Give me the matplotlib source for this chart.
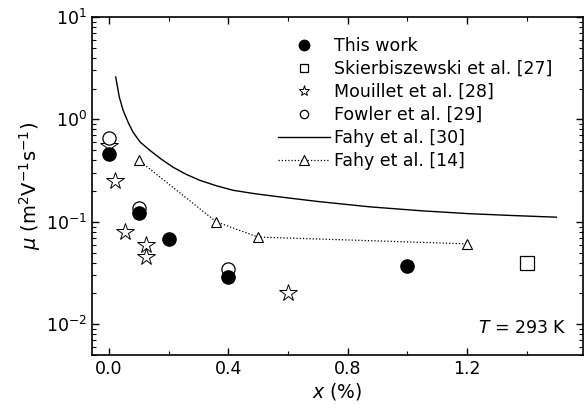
import numpy as np
import matplotlib
matplotlib.use("Agg")
import matplotlib.pyplot as plt

plt.rcParams['font.family'] = ['DejaVu Sans']
plt.rcParams['mathtext.fontset'] = 'dejavusans'

# data
this_x = [0.0, 0.1, 0.2, 0.4, 1.0]
this_y = [0.46, 0.122, 0.068, 0.029, 0.037]

skier_x = [1.4]
skier_y = [0.040]

mouillet_x = [0.0, 0.02, 0.054, 0.123, 0.123, 0.6]
mouillet_y = [0.55, 0.25, 0.08, 0.059, 0.045, 0.020]

fowler_x = [0.0, 0.1, 0.4]
fowler_y = [0.66, 0.135, 0.035]

fahy30_x = [0.023, 0.035, 0.048, 0.065, 0.081, 0.105, 0.137, 0.175, 0.216, 0.26, 0.305,
            0.36, 0.417, 0.49, 0.573, 0.7, 0.875, 1.05, 1.21, 1.36, 1.5]
fahy30_y = [2.59, 1.65, 1.22, 0.93, 0.75, 0.60, 0.50, 0.41, 0.34, 0.29, 0.254,
            0.225, 0.203, 0.188, 0.175, 0.158, 0.14, 0.128, 0.12, 0.115, 0.111]

fahy14_x = [0.1, 0.36, 0.5, 1.2]
fahy14_y = [0.40, 0.10, 0.071, 0.061]

fig = plt.figure(figsize=(5.85, 4.12), dpi=100)
ax = fig.add_axes([0.157, 0.138, 0.84, 0.821])
font_size = 12.5

ax.plot(fahy30_x, fahy30_y, '-', color='k', lw=1.0, label='Fahy et al. [30]')
ax.plot(fahy14_x, fahy14_y, linestyle=(0, (1, 1.6)), color='k', lw=0.9, marker='^',
        markersize=7, markerfacecolor='white', markeredgecolor='k',
        markeredgewidth=0.8, label='Fahy et al. [14]')
ax.plot(mouillet_x, mouillet_y, '*', markersize=13, markerfacecolor='white',
        markeredgecolor='k', markeredgewidth=0.7, label='Mouillet et al. [28]')
ax.plot(fowler_x, fowler_y, 'o', markersize=9.5, markerfacecolor='white',
        markeredgecolor='k', markeredgewidth=0.9, label='Fowler et al. [29]')
ax.plot(skier_x, skier_y, 's', markersize=9.5, markerfacecolor='white',
        markeredgecolor='k', markeredgewidth=0.9, label='Skierbiszewski et al. [27]')
ax.plot(this_x, this_y, 'o', markersize=9.5, color='k', label='This work')

ax.set_yscale('log')
ax.set_xlim(-0.057, 1.59)
ax.set_ylim(5e-3, 10)
ax.set_xticks([0.0, 0.4, 0.8, 1.2])
ax.set_xticklabels(['0.0', '0.4', '0.8', '1.2'])
ax.set_xticks(np.arange(0.2, 1.6, 0.4), minor=True)
ax.tick_params(axis='both', which='both', direction='in', top=True, right=True,
               labelsize=font_size)
ax.tick_params(axis='both', which='major', length=5, width=1)
ax.tick_params(axis='both', which='minor', length=3, width=0.8)
for sp in ax.spines.values():
    sp.set_linewidth(1.2)

ax.set_xlabel(r'$x$ (%)', fontsize=font_size + 1, labelpad=2)
ax.set_ylabel(r'$\mu$ (m$^2$V$^{-1}$s$^{-1}$)', fontsize=font_size + 1.5, labelpad=2)

ax.text(0.965, 0.08, r'$T$ = 293 K', transform=ax.transAxes, ha='right', va='center',
        fontsize=font_size)

handles, labels = ax.get_legend_handles_labels()
order = ['This work', 'Skierbiszewski et al. [27]', 'Mouillet et al. [28]',
         'Fowler et al. [29]', 'Fahy et al. [30]', 'Fahy et al. [14]']
hmap = dict(zip(labels, handles))
leg = ax.legend([hmap[o] for o in order], order, loc='upper left',
                bbox_to_anchor=(0.365, 0.96), frameon=False, fontsize=font_size,
                handlelength=3.0, handletextpad=0.2, labelspacing=0.28,
                borderaxespad=0)
# legend marker sizes as in the original
for h, ms in zip(leg.legend_handles, [7.5, 6, 8, 6, 0, 6.5]):
    if ms:
        h.set_markersize(ms)

fig.savefig('out.png', dpi=100)
